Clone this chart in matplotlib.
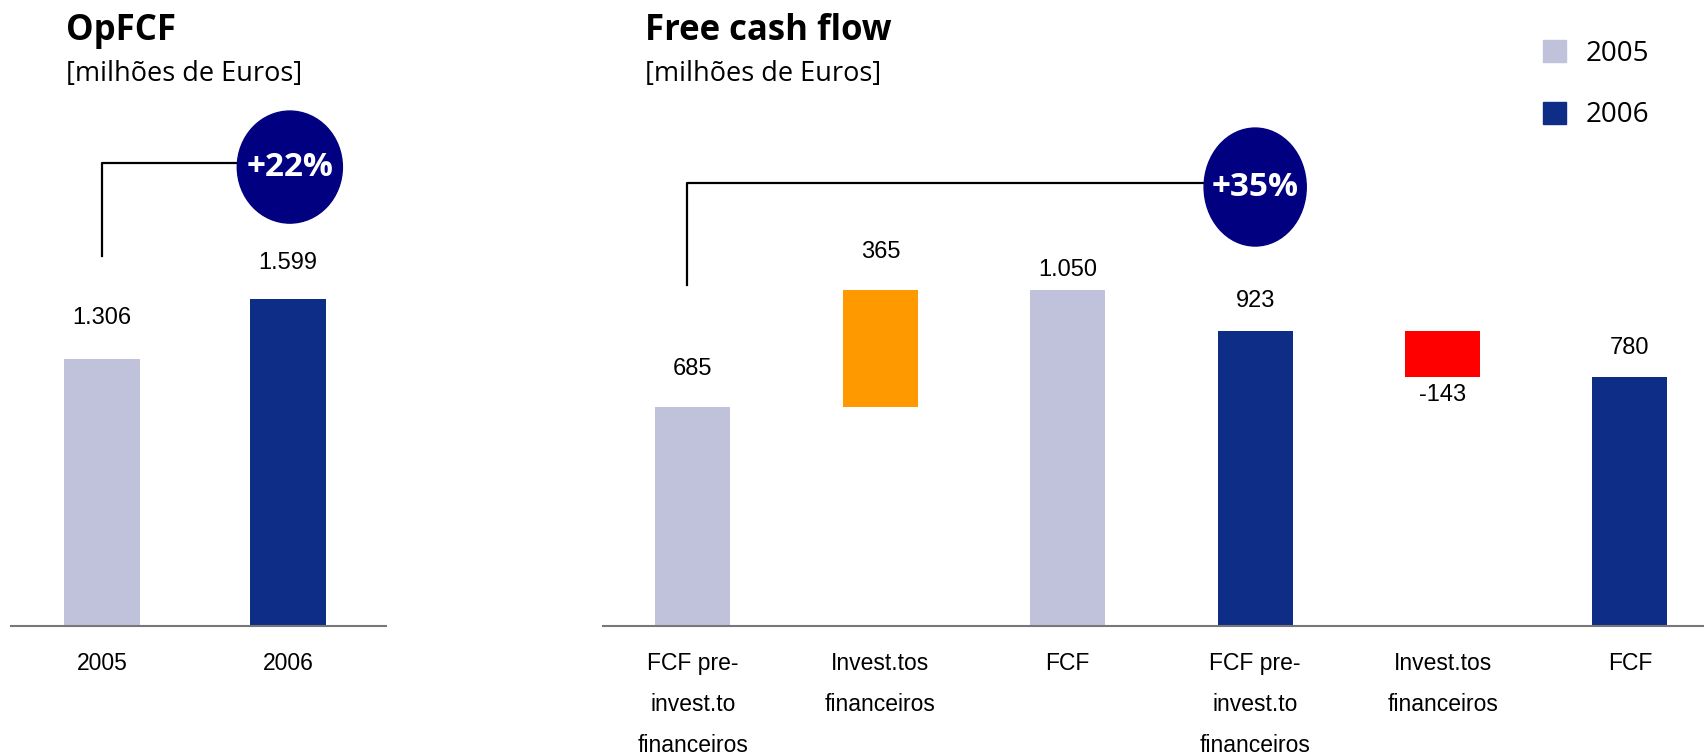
import matplotlib
matplotlib.use('Agg')
import matplotlib.pyplot as plt
from matplotlib.patches import Ellipse, Patch

# ---- data ----
opfcf_years = ['2005', '2006']
opfcf_values = [1306, 1599]
opfcf_growth = '+22%'

fcf_categories = ['FCF pre-\ninvest.to\nfinanceiros', 'Invest.tos\nfinanceiros', 'FCF',
                  'FCF pre-\ninvest.to\nfinanceiros', 'Invest.tos\nfinanceiros', 'FCF']
fcf_values = [685, 365, 1050, 923, -143, 780]
fcf_growth = '+35%'

value_labels_left = ['1.306', '1.599']
value_labels_right = ['685', '365', '1.050', '923', '-143', '780']

# ---- styles ----
C05 = '#C0C2DC'
C06 = '#0E2D87'
NAVY = '#000080'
fcf_colors = [C05, '#FF9900', C05, C06, '#FF0000', C06]
NUM_FONT = 'Liberation Sans'
TXT_FONT = 'Open Sans'

W, H = 1704, 755
fig = plt.figure(figsize=(W / 100, H / 100), dpi=100)


def px_axes(x0, x1, base):
    return fig.add_axes([x0 / W, (H - base) / H, (x1 - x0) / W, base / H])


def style_axes(ax):
    for s in ['top', 'right', 'left']:
        ax.spines[s].set_visible(False)
    ax.spines['bottom'].set_color('#777777')
    ax.spines['bottom'].set_linewidth(1.5)
    ax.set_yticks([])
    ax.tick_params(axis='x', length=0, pad=19)
    for t in ax.get_xticklabels():
        t.set_fontfamily(NUM_FONT)
        t.set_fontsize(16.5)
        t.set_linespacing(1.98)


# ---- left: OpFCF ----
axl = px_axes(11, 386, 626)
axl.set_xlim(-0.489, 1.527)
axl.set_ylim(0, 3061)
axl.bar(range(2), opfcf_values, width=0.41, color=[C05, C06])
axl.set_xticks(range(2), opfcf_years)
style_axes(axl)
left_pad = [41, 36]
for i, (v, lab) in enumerate(zip(opfcf_values, value_labels_left)):
    axl.annotate(lab, (i, v), xytext=(0, left_pad[i] * 0.72), textcoords='offset points',
                 ha='center', va='center', fontsize=17, family=NUM_FONT)

# bracket + circle
axl.plot([0, 0, 0.85], [1809, 2264, 2264], color='black', lw=1.6, clip_on=False)
axl.add_patch(Ellipse((1.01, 2244), 0.565, 548, color=NAVY, zorder=5, clip_on=False))
axl.text(1.01, 2244, opfcf_growth, color='white', fontsize=24, fontweight='bold',
         family=TXT_FONT, ha='center', va='center', zorder=6)

# ---- right: Free cash flow ----
axr = px_axes(603, 1704, 626)
axr.set_xlim(-0.48, 5.395)
axr.set_ylim(0, 1958)
bottoms = [0, fcf_values[0], 0, 0, fcf_values[3], 0]
axr.bar(range(6), fcf_values, bottom=bottoms, width=0.40, color=fcf_colors)
axr.set_xticks(range(6), fcf_categories, va='top')
style_axes(axr)
right_pad = [38, 38, 20, 30, 18, 29]
for i, (v, b, lab) in enumerate(zip(fcf_values, bottoms, value_labels_right)):
    if v >= 0:
        y, off = b + v, right_pad[i]
    else:
        y, off = b + v, -right_pad[i]
    axr.annotate(lab, (i, y), xytext=(0, off * 0.72), textcoords='offset points',
                 ha='center', va='center', fontsize=17, family=NUM_FONT)

axr.plot([-0.03, -0.03, 2.8], [1067, 1386, 1386], color='black', lw=1.6, clip_on=False)
axr.add_patch(Ellipse((3.0, 1373), 0.545, 369, color=NAVY, zorder=5, clip_on=False))
axr.text(3.0, 1373, fcf_growth, color='white', fontsize=24, fontweight='bold',
         family=TXT_FONT, ha='center', va='center', zorder=6)

# ---- titles ----
fig.text(66 / W, 1 - 40 / H, 'OpFCF', fontsize=25, fontweight='bold', family=TXT_FONT, va='baseline')
fig.text(66 / W, 1 - 81 / H, '[milhões de Euros]', fontsize=19.5, family=TXT_FONT, va='baseline')
fig.text(645 / W, 1 - 40 / H, 'Free cash flow', fontsize=25, fontweight='bold', family=TXT_FONT, va='baseline')
fig.text(645 / W, 1 - 81 / H, '[milhões de Euros]', fontsize=19.5, family=TXT_FONT, va='baseline')

# ---- legend ----
handles = [Patch(color=C05, label='2005'), Patch(color=C06, label='2006')]
fig.legend(handles=handles, loc='upper left', bbox_to_anchor=(1543 / W, 1 - 40 / H),
           frameon=False, prop={'family': TXT_FONT, 'size': 20},
           handlelength=0.83, handleheight=0.83, handletextpad=0.7,
           labelspacing=1.2, borderpad=0, borderaxespad=0)

fig.savefig('out.png', dpi=100)
